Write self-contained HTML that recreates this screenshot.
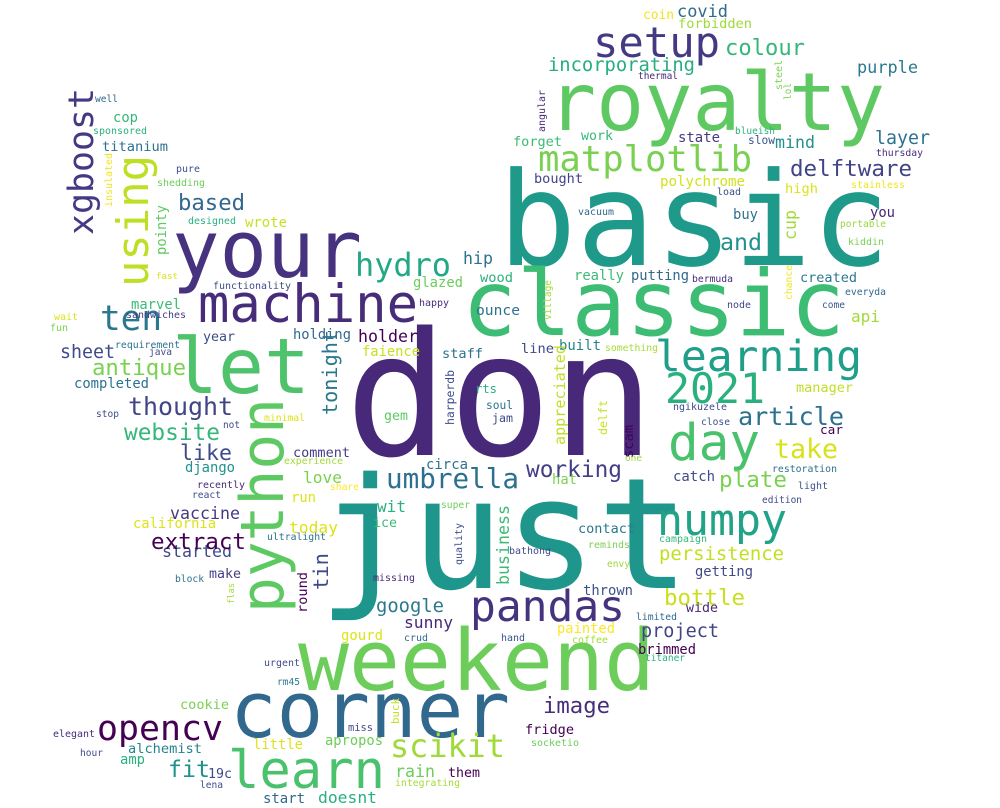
<!DOCTYPE html>
<html><head><meta charset="utf-8"><style>
html,body{margin:0;padding:0;background:#fff;}
svg{display:block;}
text{font-family:"DejaVu Sans Mono","Liberation Mono",monospace;}
</style></head><body>
<svg id="cloud" width="1000" height="808" viewBox="0 0 1000 808" xmlns="http://www.w3.org/2000/svg">
<rect width="1000" height="808" fill="#fff"/>
</svg>
<script>
// horizontal words: [word, left x, right x, baseline y, color]
const hWords = [
["basic",498,890,265,"#1f9a8a"],["don",345,655,455,"#482878"],["just",318,690,588,"#1f968b"],
["royalty",548,885,130,"#5ec962"],["classic",462,845,335,"#3dbc74"],["your",172,362,277,"#46327e"],
["machine",198,418,322,"#472c7a"],["let",172,310,393,"#4ec36b"],["weekend",298,655,690,"#6ccd5a"],
["corner",230,510,737,"#31688e"],["learn",228,385,788,"#4ac16d"],["opencv",97,223,740,"#440154"],
["scikit",390,505,757,"#a0da39"],["pandas",470,625,621,"#46337f"],["numpy",657,787,535,"#20a386"],
["learning",655,862,371,"#1f9e89"],["2021",665,765,403,"#2ab07f"],["day",668,760,460,"#4ac16d"],
["setup",593,720,57,"#443a83"],["matplotlib",538,752,171,"#7ad151"],["hydro",355,451,276,"#22a884"],
["ten",100,162,330,"#2a788e"],["umbrella",386,519,488,"#2d708e"],["colour",725,805,55,"#35b779"],
["incorporating",548,695,71,"#26ad81"],["purple",857,918,73,"#2a788e"],["delftware",790,912,176,"#414487"],
["layer",875,930,144,"#2c728e"],["mind",775,815,148,"#21918c"],["state",678,720,142,"#443983"],
["work",581,613,140,"#35b779"],["forget",513,562,146,"#3bbb75"],["bought",534,583,183,"#414487"],
["polychrome",660,745,186,"#d2e21b"],["load",717,741,195,"#3e4c8a"],["high",785,818,193,"#dde318"],
["stainless",851,905,188,"#f1e51d"],["thursday",876,923,156,"#472d7b"],["blueish",735,775,134,"#2db27d"],
["slow",748,775,144,"#3b528b"],["vacuum",578,614,215,"#31688e"],["buy",733,758,219,"#2c728e"],
["and",720,762,250,"#21918c"],["you",870,895,217,"#482677"],["portable",840,886,227,"#95d840"],
["kiddin",848,884,245,"#7ad151"],["really",574,624,280,"#3bbb75"],["putting",631,689,280,"#31688e"],
["bermuda",692,733,282,"#472d7b"],["created",800,857,282,"#2a788e"],["everyda",845,886,295,"#31688e"],
["node",727,751,308,"#414487"],["come",822,845,308,"#38598c"],["api",851,880,322,"#a0da39"],
["line",521,554,353,"#3e4a89"],["built",559,601,350,"#25848e"],["something",605,658,351,"#a5db36"],
["manager",796,853,392,"#bddf26"],["article",738,844,425,"#2c728e"],["ngikuzele",673,727,410,"#3e4989"],
["close",701,730,425,"#3b528b"],["car",820,843,434,"#440154"],["take",774,838,458,"#d8e219"],
["restoration",772,837,472,"#2c728e"],["light",798,828,489,"#3b528b"],["edition",762,802,503,"#3e4a89"],
["working",526,622,477,"#433e85"],["hat",552,577,484,"#7ad151"],["catch",673,715,481,"#3e4a89"],
["plate",719,787,487,"#7ad151"],["contact",578,635,533,"#2a788e"],["campaign",659,707,542,"#35b779"],
["reminds",588,630,548,"#7ad151"],["bathong",509,551,554,"#3e4a89"],["envy",607,630,567,"#a0da39"],
["persistence",659,784,560,"#c2df23"],["getting",695,753,576,"#3e4a89"],["bottle",664,745,605,"#c8e020"],
["thrown",583,633,595,"#3b528b"],["wide",686,718,612,"#482878"],["limited",636,677,620,"#31688e"],
["project",641,719,637,"#414487"],["painted",557,615,633,"#fde725"],["hand",501,525,641,"#3b528b"],
["coffee",572,608,643,"#a5db36"],["brimmed",638,696,654,"#440154"],["titaner",645,685,661,"#2ab07f"],
["image",543,610,713,"#472d7b"],["fridge",525,574,734,"#440154"],["socketio",531,579,746,"#6ccd5a"],
["rain",395,435,777,"#6ccd5a"],["them",448,480,777,"#440154"],["integrating",395,460,786,"#a5db36"],
["start",263,305,803,"#31688e"],["doesnt",318,377,803,"#2ab07f"],["lena",200,223,788,"#3e4c8a"],
["19c",208,232,778,"#3e4a89"],["fit",168,210,777,"#21918c"],["amp",120,145,764,"#2ab07f"],
["alchemist",128,202,753,"#25838e"],["hour",80,103,756,"#3e4c8a"],["elegant",53,95,737,"#472d7b"],
["cookie",180,229,709,"#7ad151"],["little",253,303,749,"#dde318"],["apropos",325,383,745,"#6ccd5a"],
["miss",348,373,731,"#3e4c8a"],["urgent",264,300,666,"#3e4c8a"],["rm45",277,300,685,"#2a788e"],
["gourd",341,383,640,"#dde318"],["crud",404,428,641,"#31688e"],["sunny",404,453,628,"#482878"],
["google",376,444,612,"#2a788e"],["missing",373,415,581,"#472d7b"],["block",175,204,582,"#2c728e"],
["make",209,241,578,"#433e85"],["started",162,232,557,"#3e4a89"],["extract",151,246,549,"#440154"],
["california",133,216,528,"#dde318"],["today",289,338,533,"#dde318"],["ultralight",267,326,540,"#2c728e"],
["ice",373,397,527,"#3bbb75"],["vaccine",170,240,519,"#443983"],["wit",377,406,512,"#2ab07f"],
["super",441,470,508,"#6ccd5a"],["run",291,316,502,"#dde318"],["recently",197,245,488,"#482878"],
["react",192,221,498,"#3e4c8a"],["share",330,359,490,"#fde725"],["love",303,342,483,"#7ad151"],
["django",185,235,472,"#21918c"],["experience",284,343,464,"#a5db36"],["comment",293,350,457,"#433e85"],
["circa",426,468,469,"#2c728e"],["like",180,232,460,"#3e4a89"],["website",124,220,440,"#35b779"],
["thought",128,233,415,"#414487"],["stop",96,119,417,"#3e4c8a"],["minimal",264,305,421,"#dde318"],
["not",223,240,428,"#3e4c8a"],["gem",384,408,420,"#5ec962"],["soul",486,513,409,"#2c728e"],
["jam",492,513,422,"#3e4c8a"],["well",95,118,102,"#31688e"],["cop",113,138,122,"#35b779"],
["sponsored",93,147,134,"#2ab07f"],["titanium",102,168,151,"#2c728e"],["pure",176,200,172,"#3e4c8a"],
["shedding",157,205,186,"#6ccd5a"],["based",178,245,210,"#31688e"],["designed",188,236,224,"#2ab07f"],
["wrote",245,287,227,"#c8e020"],["fast",156,178,279,"#dde318"],["functionality",213,291,289,"#3e4c8a"],
["hip",463,493,264,"#2c728e"],["wood",480,513,282,"#2ab07f"],["glazed",413,463,287,"#6ccd5a"],
["happy",419,449,306,"#472d7b"],["ounce",476,520,315,"#2c728e"],["marvel",131,181,309,"#3bbb75"],
["sandwiches",126,186,318,"#443a83"],["wait",54,78,320,"#dde318"],["fun",50,68,331,"#7ad151"],
["year",203,235,341,"#3e4c8a"],["holding",293,351,339,"#31688e"],["holder",358,418,342,"#440154"],
["faience",362,420,356,"#c8e020"],["staff",442,483,358,"#2c728e"],["requirement",115,180,348,"#2c728e"],
["java",149,172,355,"#3e4c8a"],["sheet",60,115,358,"#3e4a89"],["antique",92,186,375,"#7ad151"],
["completed",74,149,388,"#2c728e"],["covid",677,728,17,"#31688e"],["coin",643,674,19,"#f1e51d"],
["forbidden",678,752,28,"#a0da39"],["thermal",638,678,79,"#482878"],["one",625,642,461,"#a0da39"],
["rts",475,497,393,"#2ab07f"]
];
// vertical words (read bottom-to-top): [word, baseline x, bottom y, top y, color]
const vWords = [
["xgboost",93,235,88,"#443a83"],["using",148,287,155,"#bddf26"],["python",283,613,398,"#5ec962"],
["tonight",337,415,330,"#2a788e"],["tin",328,590,553,"#3e4a89"],["round",307,613,572,"#440154"],
["pointy",166,255,205,"#5ec962"],["insulated",112,207,153,"#f1e51d"],["flas",234,604,583,"#a5db36"],
["quality",462,565,523,"#3e4c8a"],["harperdb",454,425,370,"#3e4c8a"],["business",509,585,505,"#3bbb75"],
["appreciated",565,445,345,"#bddf26"],["delft",607,435,400,"#c8e020"],["scam",633,458,425,"#440154"],
["cup",796,240,210,"#a0da39"],["chance",792,300,265,"#f1e51d"],["village",551,320,280,"#a5db36"],
["angular",545,132,90,"#482878"],["steel",782,90,60,"#7ad151"],["lol",791,100,83,"#7ad151"],
["buck",399,724,698,"#c8e020"]
];
const NS="http://www.w3.org/2000/svg";
const svg=document.getElementById('cloud');
hWords.forEach(w=>{
  const len=w[2]-w[1];
  const fs=len/(w[0].length*0.602);
  const t=document.createElementNS(NS,'text');
  t.setAttribute('x',w[1]);t.setAttribute('y',w[3]);
  t.setAttribute('font-size',fs.toFixed(1));
  t.setAttribute('fill',w[4]);
  t.setAttribute('textLength',len);
  t.setAttribute('lengthAdjust','spacingAndGlyphs');
  t.textContent=w[0];
  
  
  svg.appendChild(t);
});
vWords.forEach(w=>{
  const len=w[2]-w[3];
  const fs=len/(w[0].length*0.602);
  const t=document.createElementNS(NS,'text');
  t.setAttribute('x',0);t.setAttribute('y',0);
  t.setAttribute('transform','translate('+w[1]+','+w[2]+') rotate(-90)');
  t.setAttribute('font-size',fs.toFixed(1));
  t.setAttribute('fill',w[4]);
  t.setAttribute('textLength',len);
  t.setAttribute('lengthAdjust','spacingAndGlyphs');
  t.textContent=w[0];
  
  
  svg.appendChild(t);
});
</script>
</body></html>
